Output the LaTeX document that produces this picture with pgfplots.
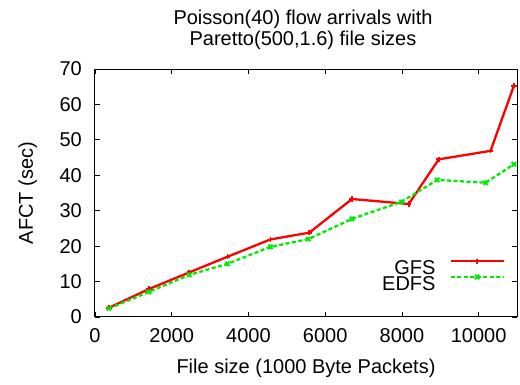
\documentclass[border=0pt]{standalone}
\usepackage{pgfplots}
\pgfplotsset{compat=1.18}
\usepackage{fontspec}
\setmainfont{Liberation Sans}
\usetikzlibrary{calc}
\definecolor{gfsred}{RGB}{255,0,0}
\definecolor{edfsgreen}{RGB}{0,235,0}
\begin{document}
\begin{tikzpicture}
\begin{axis}[
  anchor=south west,
  scale only axis, width=422pt, height=248pt,
  xmin=0, xmax=11000, ymin=0, ymax=70,
  xtick={0,2000,4000,6000,8000,10000},
  ytick={0,10,20,30,40,50,60,70},
  tick align=inside, major tick length=5pt,
  tick style={black, line width=0.8pt},
  axis line style={black, line width=1pt},
  scaled x ticks=false,
  /pgf/number format/1000 sep={},
  /pgf/number format/assume math mode=true,
  ticklabel style={font=\fontsize{20}{22}\selectfont, inner sep=0pt},
  xticklabel style={anchor=north, yshift=-11pt},
  yticklabel style={anchor=east, xshift=-13pt},
  title={Poisson(40) flow arrivals with\\Paretto(500,1.6) file sizes},
  title style={align=center, font=\fontsize{20}{20.5}\selectfont, inner sep=0pt,
    at={($(axis description cs:0.5,1)+(-3pt,13.5pt)$)}, anchor=south},
  xlabel={File size (1000 Byte Packets)},
  xlabel style={font=\fontsize{20}{22}\selectfont, inner sep=0pt,
    at={($(axis description cs:0.5,0)+(0pt,-57pt)$)}, anchor=base},
  ylabel={AFCT (sec)},
  ylabel style={font=\fontsize{20}{22}\selectfont, inner sep=0pt,
    at={($(axis description cs:0,0.5)+(-62pt,0pt)$)}, anchor=base},
  legend plot pos=right,
  legend cell align=right,
  legend style={draw=none, fill=none, inner sep=0pt,
    at={(axis description cs:0.9716,0.1013)}, anchor=south east,
    row sep=-1.1pt, column sep=14pt,
    font=\fontsize{20}{22}\selectfont,
    nodes={inner sep=0pt, outer sep=0pt}},
  legend image code/.code={%
    \draw[mark repeat=2,mark phase=2,#1] plot coordinates {(0pt,7pt)(26.5pt,7pt)(53pt,7pt)};},
]
\addplot[color=gfsred, line width=2.3pt, mark=+, mark size=2.6pt,
  mark options={solid, line width=1.8pt}]
  coordinates {(363,2.6)(1407,7.9)(2460,12.6)(3452,17.0)(4575,21.9)(5585,23.8)
    (6699,33.3)(8178,31.9)(8961,44.5)(10311,46.9)(10920,65.3)};
\addlegendentry{GFS}
\addplot[color=edfsgreen, line width=2.3pt, dash pattern=on 4pt off 2.5pt,
  mark=x, mark size=3pt, mark options={solid, line width=2pt}]
  coordinates {(363,2.4)(1407,7.1)(2460,11.9)(3452,15.0)(4575,19.8)(5565,22.0)
    (6699,27.7)(7987,32.5)(8919,38.7)(10180,37.9)(10920,43.1)};
\addlegendentry{EDFS}
\end{axis}
\pgfresetboundingbox
\useasboundingbox (-95pt,-68pt) rectangle (425pt,317pt);
\end{tikzpicture}
\end{document}
